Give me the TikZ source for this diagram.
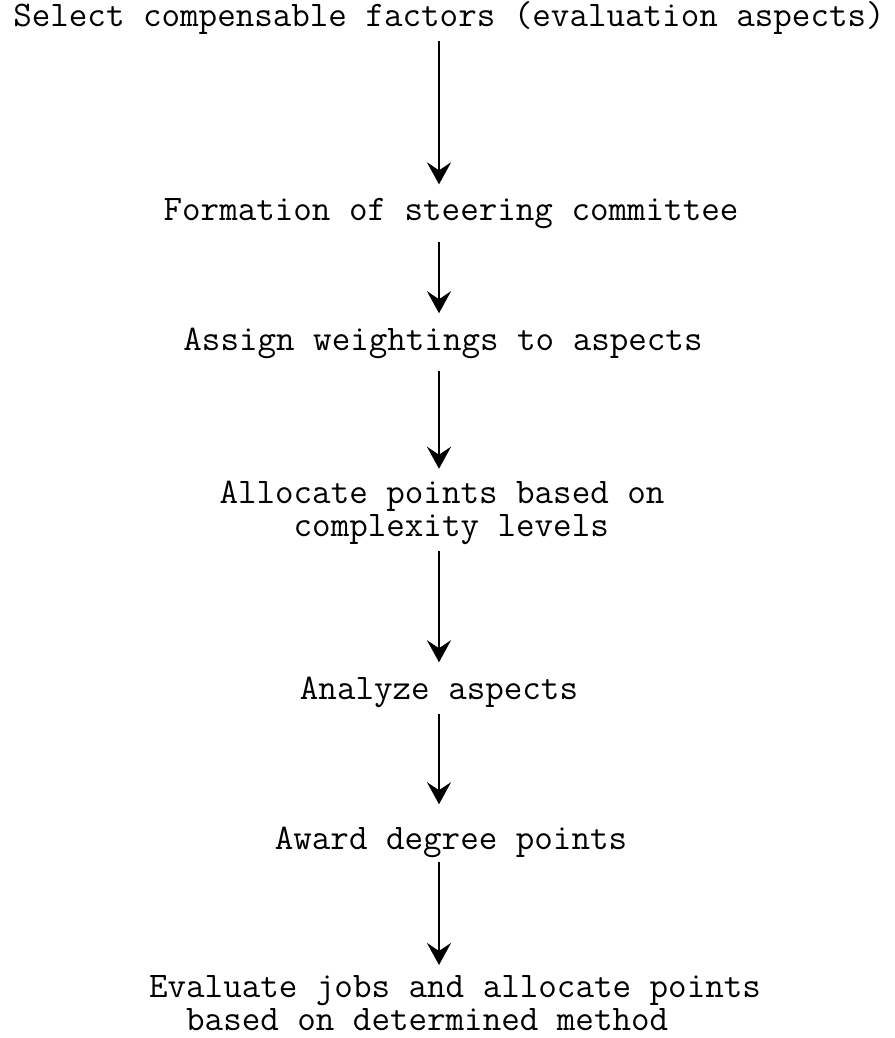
\documentclass[tikz,border=0pt]{standalone}
\usepackage{fontspec}
\usetikzlibrary{arrows.meta}

\begin{document}
\begin{tikzpicture}
	[x=0.5pt,y=0.5pt,
	stepbox/.style={inner sep=0pt, font=\ttfamily\fontsize{18}{16.5}\selectfont},
	flow/.style={-{Stealth[length=11pt,width=12pt,inset=4pt]}, line width=1.4pt}];

	\useasboundingbox (0,0) rectangle (894,-1038);

	%Axis of the arrows
	\coordinate (axis) at (439,0);

	%Steps
	\node[stepbox] (select) at (449,-18) {Select compensable factors (evaluation aspects)};
	\node[stepbox] (steer) at (451,-214) {Formation of steering committee};
	\node[stepbox] (weight) at (443,-343) {Assign weightings to aspects};
	\node[stepbox,align=left] (alloc) at (442,-513) {Allocate points based on\\~~~~complexity levels};
	\node[stepbox] (analyze) at (439,-692) {Analyze aspects};
	\node[stepbox] (award) at (451,-842) {Award degree points};
	\node[stepbox,align=left] (evaluate) at (455,-1003) {Evaluate jobs and allocate points\\~~based on determined method};

	%Arrows
	\draw[flow, shorten <=3pt, shorten >=7pt] (select.south -| axis) -- (steer.north -| axis);
	\draw[flow, shorten <=6pt, shorten >=7pt] (steer.south -| axis) -- (weight.north -| axis);
	\draw[flow, shorten <=6pt, shorten >=6pt] (weight.south -| axis) -- (alloc.north -| axis);
	\draw[flow, shorten <=3pt, shorten >=7pt] (alloc.south -| axis) -- (analyze.north -| axis);
	\draw[flow, shorten <=3pt, shorten >=11pt] (analyze.south -| axis) -- (award.north -| axis);
	\draw[flow, shorten <=2pt, shorten >=5pt] (award.south -| axis) -- (evaluate.north -| axis);
\end{tikzpicture}
\end{document}
